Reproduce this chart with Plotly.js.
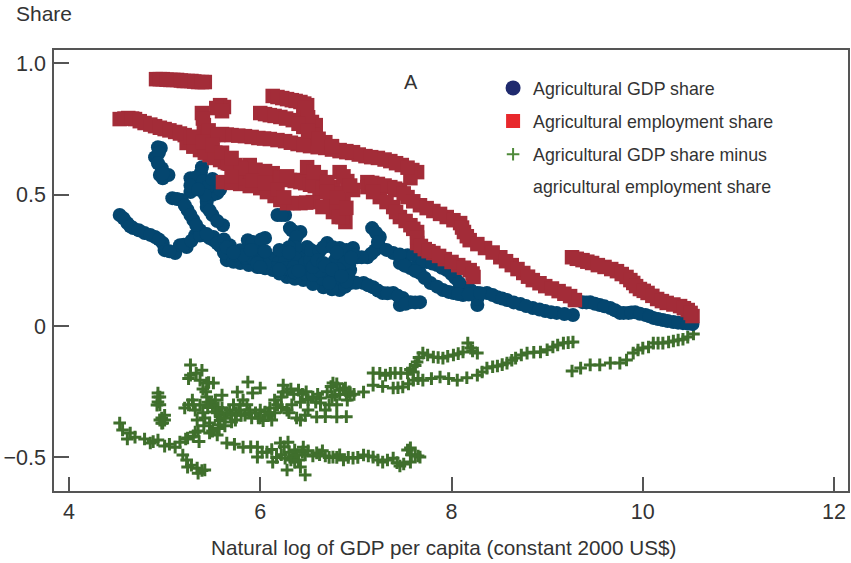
<!DOCTYPE html>
<html>
<head>
<meta charset="utf-8">
<script src="https://cdn.plot.ly/plotly-3.0.1.min.js"></script>
<style>html,body{margin:0;padding:0;background:#fff}#c{width:851px;height:563px}</style>
</head>
<body>
<div id="c"></div>
<script>
const employmentX = [4.91,4.98,5.06,5.13,5.20,5.28,5.35,5.42,
4.53,4.62,4.69,4.79,4.90,5.00,5.11,5.21,5.32,5.42,5.50,5.56,5.63,5.74,5.84,5.95,6.05,6.15,6.26,6.36,6.47,6.57,6.68,6.78,6.83,6.89,
5.39,5.41,5.51,5.58,5.62,5.54,5.60,5.60,5.70,5.84,5.98,6.10,6.26,6.39,6.52,6.68,6.83,6.96,7.10,7.23,7.36,7.48,7.59,7.64,7.57,
6.13,6.23,6.33,6.42,6.49,6.45,6.54,6.58,6.00,6.10,6.21,6.34,6.45,6.55,6.68,6.83,6.97,
5.61,5.79,6.00,6.15,6.28,6.42,6.55,6.76,
5.23,5.37,5.47,5.58,5.74,5.89,6.13,6.42,6.76,5.84,6.00,6.10,
6.49,6.63,6.76,6.87,6.83,6.91,6.97,6.73,6.63,
7.12,7.23,7.36,7.46,7.54,7.67,7.81,7.95,8.09,8.13,8.19,8.35,8.51,8.63,8.75,8.85,8.98,9.12,9.24,9.29,
7.12,7.25,7.39,7.46,7.57,7.64,7.64,7.72,7.81,7.93,8.07,8.19,8.23,
9.26,9.37,9.47,9.60,9.73,9.83,9.90,9.97,10.05,10.15,10.25,10.39,10.47,10.52];
const employmentY = [.940,.940,.937,.937,.933,.933,.929,.929,
.788,.792,.788,.773,.761,.750,.739,.727,.712,.697,.670,.647,.624,.613,.594,.579,.567,.567,.560,.552,.544,.533,.514,.472,.434,.396,
.811,.765,.727,.841,.834,.830,.818,.731,.727,.723,.716,.712,.704,.693,.685,.678,.666,.659,.647,.640,.628,.613,.594,.586,.563,
.876,.868,.860,.853,.841,.815,.777,.765,.811,.803,.796,.784,.758,.727,.700,.670,.662,
.548,.541,.525,.495,.468,.468,.472,.434,
.697,.670,.651,.632,.605,.613,.582,.556,.506,.563,.556,.537,
.605,.567,.529,.480,.586,.552,.518,.499,.510,
.548,.541,.529,.518,.491,.460,.438,.415,.392,.358,.327,.297,.262,.232,.202,.175,.152,.133,.114,.099,
.529,.491,.453,.415,.384,.358,.316,.293,.278,.255,.232,.213,.187,
.262,.251,.240,.225,.209,.187,.164,.141,.126,.103,.088,.076,.061,.038];
const employmentMore = [[4.95,.94],[5.02,.938],[5.09,.937],[5.17,.935],[5.24,.933],[5.31,.931],[5.39,.929],
[4.58,.79],[4.66,.79],[4.74,.78],[4.85,.767],[4.95,.755],[5.05,.745],[5.16,.733],[5.27,.72],[5.37,.705],[5.46,.683],[5.53,.66],[5.60,.635],[5.68,.618],[5.79,.603],[5.90,.586],[6.00,.573],[6.10,.567],[6.21,.563],[6.31,.556],[6.42,.548],[6.52,.538],[6.62,.524],[6.73,.49],[6.80,.453],[6.86,.415],
[5.65,.729],[5.77,.725],[5.91,.72],[6.04,.714],[6.18,.708],[6.32,.698],[6.45,.689],[6.60,.681],[6.75,.672],[6.90,.662],[7.03,.653],[7.16,.643],[7.30,.634],[7.42,.62],[7.54,.603],[5.40,.79],[5.46,.745],[5.56,.727],
[6.18,.872],[6.28,.864],[6.37,.857],[6.46,.847],[6.47,.83],[6.50,.795],[6.05,.807],[6.15,.80],[6.27,.79],[6.40,.77],[6.50,.742],[6.61,.713],[6.75,.685],[6.90,.666],
[5.70,.545],[5.89,.533],[6.07,.51],[6.21,.48],[6.35,.468],[6.48,.47],[6.65,.453],[6.82,.415],
[5.30,.683],[5.42,.66],[5.52,.64],[5.66,.62],[5.80,.60],[5.95,.595],[6.05,.59],[6.28,.57],[6.55,.54],[6.65,.525],[5.70,.57],[5.92,.555],[6.05,.545],[6.18,.52],[6.25,.49],
[5.30,.72],[5.40,.70],[5.50,.69],[5.60,.66],[5.70,.64],
[6.56,.586],[6.70,.548],[6.82,.505],[6.87,.57],[6.94,.535],[6.70,.51],[6.80,.49],[6.90,.45],
[7.17,.545],[7.30,.535],[7.41,.523],[7.50,.505],[7.60,.475],[7.74,.449],[7.88,.427],[8.02,.403],[8.11,.375],[8.16,.342],[8.27,.312],[8.43,.28],[8.57,.247],[8.69,.217],[8.80,.188],[8.92,.163],[9.05,.143],[9.18,.123],
[7.18,.51],[7.32,.472],[7.42,.434],[7.52,.40],[7.60,.37],[7.64,.337],[7.68,.305],[7.76,.285],[7.87,.267],[8.00,.244],[8.13,.222],[8.22,.20],
[9.31,.256],[9.42,.245],[9.53,.232],[9.67,.217],[9.78,.198],[9.87,.175],[9.93,.152],[10.01,.134],[10.10,.115],[10.20,.095],[10.32,.082],[10.43,.068],[10.50,.05]];

const gdpX = [4.53,4.61,4.67,4.79,4.90,4.98,5.00,5.11,5.16,5.23,5.32,5.42,5.51,5.58,5.65,5.79,5.97,6.13,6.28,6.45,6.66,6.83,6.94,7.08,7.18,7.28,7.39,7.49,7.46,7.57,7.67,
4.93,4.96,4.90,4.97,4.98,5.04,4.95,
5.39,5.37,5.27,5.27,5.08,5.18,5.24,5.30,5.37,5.51,
5.47,5.58,5.55,5.44,5.44,5.50,5.61,
6.18,6.26,6.31,6.42,6.36,6.38,5.87,6.05,5.97,7.17,7.25,7.20,7.12,7.01,
5.68,5.79,5.89,6.00,6.10,6.21,6.31,6.42,6.49,6.57,6.70,6.83,6.97,6.89,6.73,6.57,6.83,6.94,6.68,6.52,6.42,6.31,6.21,6.05,5.89,5.74,6.89,6.78,6.60,6.42,6.94,
7.25,7.39,7.54,7.60,7.67,7.74,7.85,7.95,8.04,8.12,8.27,8.27,
7.46,7.57,7.67,7.78,7.91,8.02,8.12,8.37,8.48,8.58,8.72,8.85,8.98,9.10,9.27,
9.37,9.45,9.55,9.66,9.76,9.85,9.92,10.03,10.11,10.21,10.32,10.42,10.52];
const gdpY = [.423,.392,.373,.354,.339,.316,.289,.278,.308,.301,.346,.346,.327,.305,.251,.240,.225,.213,.187,.175,.148,.137,.164,.164,.148,.126,.126,.107,.080,.091,.091,
.681,.678,.643,.601,.563,.575,.575,
.605,.567,.563,.510,.487,.480,.442,.404,.365,.339,
.544,.544,.506,.491,.453,.423,.384,
.423,.423,.373,.358,.320,.278,.327,.335,.316,.373,.339,.289,.262,.262,
.308,.289,.278,.270,.259,.270,.244,.259,.301,.270,.316,.297,.297,.259,.221,.244,.244,.213,.206,.213,.221,.213,.232,.244,.244,.259,.175,.168,.183,.194,.251,
.301,.278,.270,.270,.251,.244,.232,.213,.183,.148,.126,.080,
.240,.221,.202,.164,.137,.126,.118,.126,.110,.099,.084,.069,.057,.050,.042,
.091,.091,.080,.069,.050,.050,.053,.042,.031,.023,.015,.011,.008];
const gdpMore = [[4.57,.41],[4.64,.38],[4.73,.365],[4.85,.347],[4.94,.33],[5.05,.285],[5.20,.31],[5.28,.325],[5.37,.345],[5.47,.335],[5.55,.315],[5.62,.28],[5.72,.245],[5.88,.232],[6.05,.22],[6.20,.20],[6.36,.18],[6.55,.16],[6.75,.14],[6.89,.15],[7.0,.165],[7.13,.155],[7.23,.135],[7.33,.125],[7.44,.115],[7.52,.085],[7.62,.09],
[4.94,.66],[4.93,.62],[4.98,.58],
[5.38,.585],[5.32,.565],[5.27,.535],[5.13,.484],[5.21,.46],[5.27,.423],[5.33,.385],[5.44,.35],
[5.52,.544],[5.56,.525],[5.50,.5],[5.44,.472],[5.47,.44],[5.55,.40],[5.40,.55],
[6.22,.423],[6.33,.365],[6.38,.34],[6.37,.30],[6.30,.30],[6.36,.26],[5.92,.32],[6.01,.33],[7.21,.355],[7.23,.32],[7.16,.275],[7.06,.262],
[5.62,.33],[5.70,.29],[5.74,.27],[5.85,.26],[5.93,.255],[6.02,.25],[6.10,.24],[6.15,.25],[6.20,.245],[6.26,.25],[6.26,.22],[6.35,.225],[6.36,.205],[6.47,.20],[6.47,.24],[6.52,.25],[6.53,.29],[6.62,.285],[6.66,.30],[6.76,.30],[6.90,.29],[6.97,.27],[6.93,.23],[6.88,.21],[6.75,.19],[6.65,.18],[6.55,.195],[6.72,.165],[6.62,.21],[6.78,.25],[6.88,.24],[6.82,.215],[6.92,.19],[6.15,.22],[6.05,.235],[5.97,.24],[5.82,.27],
[5.65,.30],[5.72,.28],[5.90,.29],[6.05,.285],[6.20,.29],[6.30,.28],[6.0,.225],[6.2,.215],[6.4,.21],[6.55,.225],[6.6,.25],[6.66,.24],[6.8,.28],[6.68,.23],[6.75,.215],[6.9,.17],[6.85,.19],[6.95,.26],
[5.45,.53],[5.50,.56],[5.42,.50],[5.35,.52],[5.58,.52],
[7.32,.29],[7.46,.272],[7.70,.248],[7.80,.238],[7.90,.222],[8.00,.198],[8.08,.165],[8.20,.137],[8.27,.105],
[7.51,.23],[7.62,.21],[7.72,.183],[7.85,.15],[7.97,.13],[8.07,.122],[8.18,.12],[8.30,.125],[8.43,.118],[8.53,.105],[8.65,.09],[8.78,.076],[8.92,.063],[9.04,.053],[9.18,.046],
[9.41,.09],[9.50,.085],[9.60,.075],[9.71,.06],[9.80,.05],[9.88,.052],[9.97,.047],[10.07,.037],[10.16,.027],[10.26,.019],[10.37,.013],[10.47,.01]];

const diffX = [4.53,4.56,4.64,4.61,4.69,4.79,4.85,4.93,5.00,5.11,5.16,5.24,5.32,5.47,5.55,
5.19,5.24,5.34,5.35,5.42,
4.93,4.93,4.92,4.97,4.98,4.95,5.00,4.95,
5.27,5.27,5.39,5.37,5.44,5.51,5.44,
5.21,5.29,5.32,5.37,5.34,5.42,5.53,5.60,5.53,5.60,5.63,5.68,5.74,5.79,5.84,5.76,5.82,5.89,5.98,6.05,6.12,6.10,5.47,5.56,
5.87,6.00,5.92,
6.15,6.24,6.24,6.40,6.55,6.63,6.76,6.83,6.91,7.08,6.28,6.42,6.59,6.80,6.63,6.78,6.89,6.94,
7.18,7.31,7.41,7.54,7.18,7.39,7.49,7.60,
7.60,7.64,7.70,7.81,7.91,8.02,8.12,8.17,8.27,8.20,
7.70,7.88,8.06,8.27,8.37,8.48,8.58,8.67,8.79,8.93,9.06,9.17,9.27,
9.26,9.35,9.45,9.55,9.66,9.76,9.83,9.90,9.95,10.00,10.06,10.11,10.16,10.21,10.27,10.32,10.37,10.42,10.47,10.53,
5.65,5.82,5.97,5.97,6.07,6.21,6.29,6.13,6.26,6.34,6.36,6.45,6.42,6.47,6.28,6.36,6.47,6.59,6.68,6.76,6.87,6.97,7.08,7.18,7.28,7.39,7.46,7.57,7.67,7.54,7.62,7.57];
const diffY = [-.369,-.396,-.407,-.430,-.423,-.430,-.445,-.434,-.457,-.461,-.442,-.426,-.404,-.407,-.415,
-.491,-.537,-.541,-.560,-.548,
-.255,-.289,-.301,-.350,-.369,-.358,-.358,-.270,
-.148,-.187,-.168,-.206,-.217,-.217,-.270,
-.312,-.282,-.320,-.301,-.358,-.350,-.282,-.263,-.327,-.312,-.350,-.320,-.358,-.301,-.339,-.251,-.282,-.320,-.350,-.327,-.358,-.312,-.369,-.377,
-.213,-.236,-.255,
-.282,-.251,-.225,-.244,-.270,-.274,-.217,-.244,-.282,-.251,-.320,-.358,-.346,-.346,-.293,-.263,-.236,-.263,
-.179,-.187,-.179,-.179,-.225,-.236,-.232,-.206,
-.175,-.137,-.103,-.118,-.122,-.110,-.099,-.065,-.103,-.084,
-.206,-.194,-.206,-.187,-.160,-.152,-.141,-.122,-.103,-.099,-.080,-.065,-.061,
-.171,-.160,-.148,-.148,-.141,-.141,-.129,-.103,-.091,-.084,-.080,-.065,-.065,-.065,-.061,-.057,-.053,-.050,-.042,-.030,
-.445,-.461,-.461,-.499,-.480,-.445,-.442,-.518,-.503,-.499,-.472,-.461,-.537,-.567,-.548,-.518,-.491,-.483,-.495,-.499,-.510,-.503,-.491,-.499,-.518,-.503,-.533,-.518,-.499,-.472,-.491,-.464];
const diffMore = [[5.25,-.30],[5.30,-.30],[5.40,-.33],[5.45,-.29],[5.50,-.30],[5.56,-.31],[5.58,-.34],[5.65,-.33],[5.70,-.34],[5.72,-.30],[5.75,-.33],[5.80,-.34],[5.86,-.30],[5.91,-.35],[5.95,-.33],[6.00,-.32],[6.03,-.36],[6.08,-.34],[6.15,-.33],[6.18,-.30],[6.22,-.27],[6.28,-.25],[6.32,-.24],[6.35,-.26],[6.44,-.26],[6.48,-.25],[6.50,-.28],[6.58,-.29],[6.70,-.25],[6.74,-.23],[6.80,-.22],[6.83,-.26],[6.87,-.24],[6.90,-.26],[6.93,-.25],[6.98,-.26],[6.75,-.27],[6.72,-.30],[6.68,-.32],[6.50,-.32],[6.47,-.34],[6.38,-.35],[6.30,-.33],[6.22,-.31],[6.68,-.345],[6.90,-.345],[5.25,-.20],[5.33,-.18],[5.40,-.24],[5.43,-.25],[5.48,-.29],[5.46,-.215],[5.35,-.40],[5.41,-.38],[5.5,-.40],[5.57,-.39],[5.63,-.38],[5.70,-.365],[5.58,-.36],[5.36,-.44],[5.30,-.42],[5.22,-.43],[5.05,-.45],[4.88,-.44],[5.23,-.51],[5.28,-.53],[5.39,-.55],[4.95,-.30],[4.93,-.27],[4.97,-.37],[5.0,-.34],
[5.45,-.31],[5.55,-.33],[5.62,-.35],[5.78,-.32],[5.88,-.33],[6.0,-.35],[6.1,-.33],[6.33,-.3],[6.42,-.29],[6.6,-.26],[6.8,-.3],
[5.73,-.45],[5.90,-.46],[6.02,-.48],[6.12,-.47],[6.17,-.50],[6.22,-.49],[6.25,-.46],[6.30,-.48],[6.32,-.51],[6.38,-.49],[6.40,-.51],[6.44,-.48],[6.50,-.475],[6.55,-.495],[6.62,-.49],[6.65,-.475],[6.72,-.50],[6.80,-.50],[6.83,-.49],[6.92,-.50],[7.02,-.50],[7.13,-.495],[7.23,-.51],[7.33,-.51],[7.43,-.52],[7.50,-.525],[7.58,-.49],[7.65,-.495],
[7.25,-.18],[7.36,-.18],[7.47,-.18],[7.57,-.165],[7.62,-.15],[7.66,-.12],[7.75,-.11],[7.86,-.12],[7.96,-.115],[8.07,-.105],[8.22,-.095],
[7.28,-.23],[7.44,-.235],[7.55,-.22],[7.65,-.20],[7.79,-.20],[7.97,-.20],[8.16,-.197],[8.32,-.175],[8.43,-.155],[8.53,-.147],[8.63,-.13],[8.73,-.11],[8.86,-.10],[9.0,-.09],[9.11,-.072],[9.22,-.063]];

const xTicks = [4,6,8,10,12];
const yTicks = [1,0.5,0,-0.5];
const yTickText = ['1.0','0.5','0','\u22120.5'];
const legendNames = ['Agricultural GDP share','Agricultural employment share','Agricultural GDP share minus'];
const legendExtraLine = 'agricultural employment share';
const xTitle = 'Natural log of GDP per capita (constant 2000 US$)';

const FONT = 'Liberation Sans, Arial, sans-serif';
const TXT = '#333333';

const traces = [
  {x:diffX.concat(diffMore.map(p=>p[0])),y:diffY.concat(diffMore.map(p=>p[1])),mode:'markers',showlegend:false,hoverinfo:'skip',
   marker:{symbol:'cross-thin',size:9,color:'#3f6f2c',line:{color:'#3f6f2c',width:3}}},
  {x:gdpX.concat(gdpMore.map(p=>p[0])),y:gdpY.concat(gdpMore.map(p=>p[1])),mode:'markers',showlegend:false,hoverinfo:'skip',
   marker:{symbol:'circle',size:14,color:'#04466f'}},
  {x:employmentX.concat(employmentMore.map(p=>p[0])),y:employmentY.concat(employmentMore.map(p=>p[1])),mode:'markers',showlegend:false,hoverinfo:'skip',
   marker:{symbol:'square',size:14.5,color:'#a32c38'}},
  {x:[null],y:[null],mode:'markers',name:legendNames[0],legendgroup:'a',
   marker:{symbol:'circle',size:15,color:'#1f2a6e'}},
  {x:[null],y:[null],mode:'markers',name:legendNames[1],legendgroup:'b',
   marker:{symbol:'square',size:14,color:'#e8282c'}},
  {x:[null],y:[null],mode:'markers',name:legendNames[2],legendgroup:'c',
   marker:{symbol:'cross-thin',size:9,color:'#4f8a3a',line:{color:'#4f8a3a',width:2}}}
];

const layout = {
  width:851,height:563,
  margin:{l:54,r:3,t:50,b:72,pad:0},
  paper_bgcolor:'#fff',plot_bgcolor:'#fff',
  font:{family:FONT,color:TXT,size:17.8},
  xaxis:{range:[3.843,12.146],tickmode:'array',tickvals:xTicks,ticktext:xTicks.map(String),
    ticks:'inside',ticklen:14,tickwidth:1.5,tickcolor:'#555',showgrid:false,zeroline:false,
    showline:true,mirror:true,linecolor:'#555',linewidth:1.5,
    tickfont:{size:21.5,family:FONT,color:TXT}},
  yaxis:{range:[-0.628,1.051],tickmode:'array',tickvals:yTicks,ticktext:yTickText,
    ticks:'inside',ticklen:15,tickwidth:1.5,tickcolor:'#555',showgrid:false,zeroline:false,
    showline:true,mirror:true,linecolor:'#555',linewidth:1.5,ticklabelstandoff:2,
    tickfont:{size:21.5,family:FONT,color:TXT}},
  legend:{x:0.553,y:0.955,xanchor:'left',yanchor:'top',bgcolor:'rgba(0,0,0,0)',borderwidth:0,
    font:{size:17.8,family:FONT,color:TXT},tracegroupgap:7,itemwidth:30,traceorder:'grouped'},
  annotations:[
    {xref:'paper',yref:'paper',x:-0.05,y:1.082,xanchor:'left',yanchor:'middle',showarrow:false,
     text:'Share',font:{size:21,family:FONT,color:TXT}},
    {xref:'x',yref:'y',x:7.58,y:0.93,xanchor:'center',yanchor:'middle',showarrow:false,
     text:'A',font:{size:20,family:FONT,color:TXT}},
    {xref:'paper',yref:'paper',x:0.601,y:0.689,xanchor:'left',yanchor:'middle',showarrow:false,
     text:legendExtraLine,font:{size:17.8,family:FONT,color:TXT}},
    {xref:'paper',yref:'paper',x:0.4905,y:-0.129,xanchor:'center',yanchor:'middle',showarrow:false,
     text:xTitle,font:{size:20.7,family:FONT,color:TXT}}
  ]
};
Plotly.newPlot('c',traces,layout,{displayModeBar:false,responsive:false});
</script>
</body>
</html>
